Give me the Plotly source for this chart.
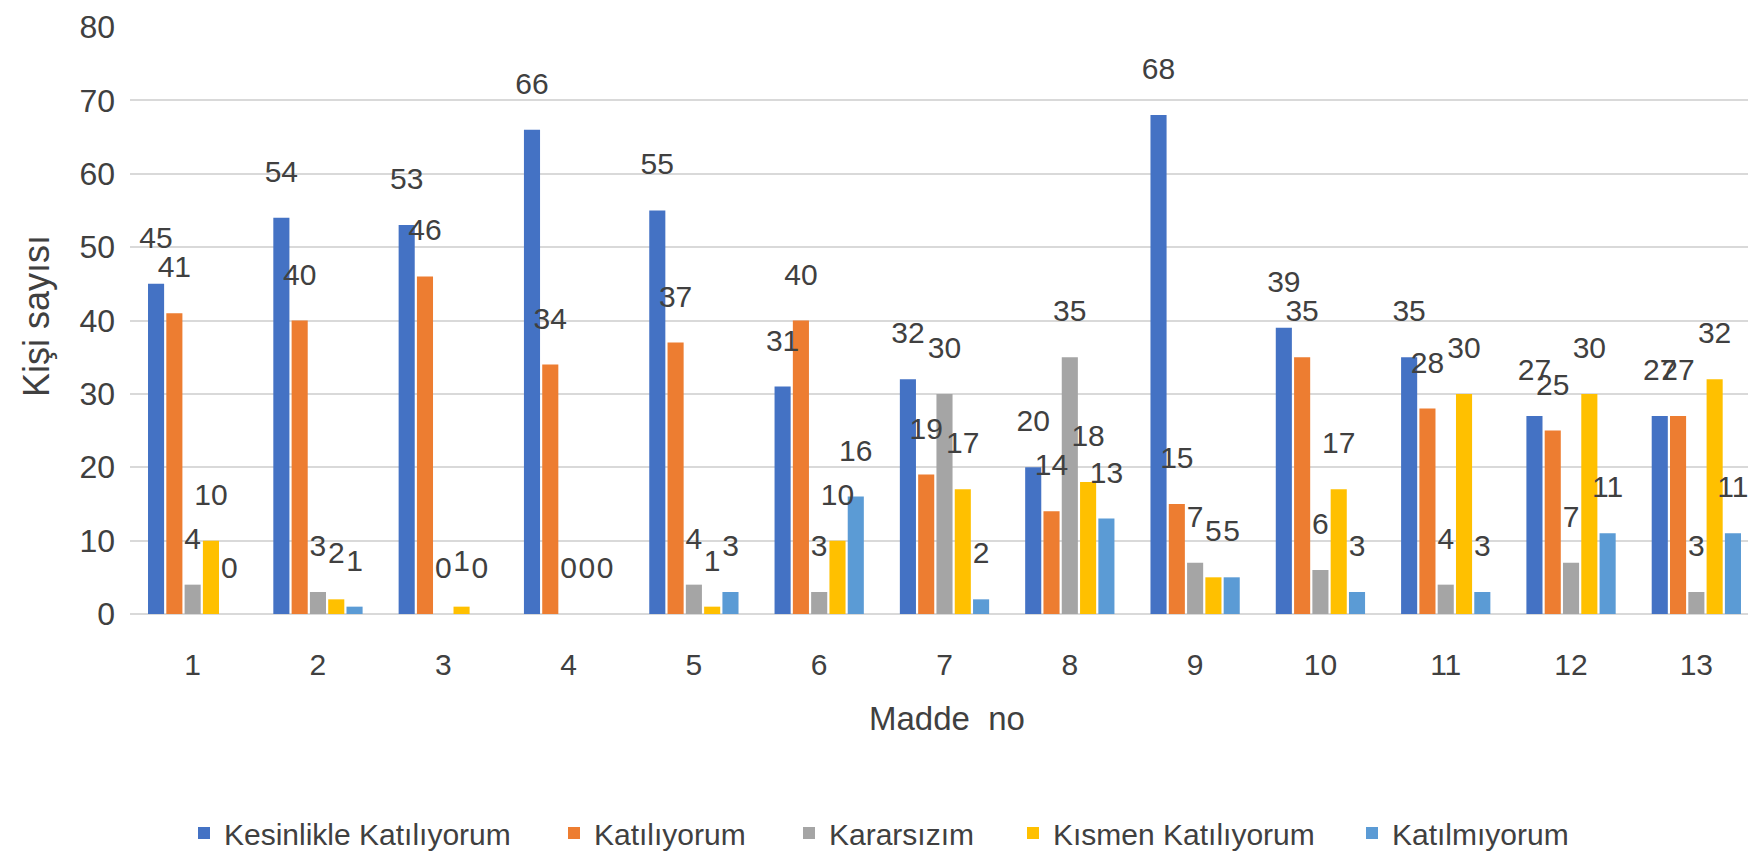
import plotly.graph_objects as go

categories = ["1", "2", "3", "4", "5", "6", "7", "8", "9", "10", "11", "12", "13"]
series_names = ["Kesinlikle Katılıyorum", "Katılıyorum", "Kararsızım", "Kısmen Katılıyorum", "Katılmıyorum"]
kesinlikle = [45, 54, 53, 66, 55, 31, 32, 20, 68, 39, 35, 27, 27]
katiliyorum = [41, 40, 46, 34, 37, 40, 19, 14, 15, 35, 28, 25, 27]
kararsizim = [4, 3, 0, 0, 4, 3, 30, 35, 7, 6, 4, 7, 3]
kismen = [10, 2, 1, 0, 1, 10, 17, 18, 5, 17, 30, 30, 32]
katilmiyorum = [0, 1, 0, 0, 3, 16, 2, 13, 5, 3, 3, 11, 11]
colors = ["#4472C4", "#ED7D31", "#A5A5A5", "#FFC000", "#5B9BD5"]

FONT = "Liberation Sans, Arial"
TXT = "#404040"

W, H = 1756, 854
L, R, T, B = 122, 5, 19, 248
PW = W - L - R
PH = H - T - B

legend_px = [176, 546, 781, 1005, 1344]
legend_names = ["legend", "legend2", "legend3", "legend4", "legend5"]

fig = go.Figure()
all_vals = [kesinlikle, katiliyorum, kararsizim, kismen, katilmiyorum]
for i, (name, vals, col) in enumerate(zip(series_names, all_vals, colors)):
    fig.add_trace(go.Bar(
        x=categories, y=vals, name=name, marker_color=col,
        marker_line_width=0, offsetgroup=str(i),
        legend=legend_names[i],
    ))
for i, vals in enumerate(all_vals):
    fig.add_trace(go.Scatter(
        x=categories, y=vals, mode="markers+text", offsetgroup=str(i),
        marker=dict(size=44, opacity=0), text=[str(v) for v in vals],
        textposition="top center", textfont=dict(family=FONT, size=30, color=TXT),
        showlegend=False, cliponaxis=False, hoverinfo="skip",
    ))

layout_legends = {}
for i, ln in enumerate(legend_names):
    layout_legends[ln] = dict(
        x=(legend_px[i] - L) / PW, xanchor="left",
        y=(H - B - 825) / PH, yanchor="middle",
        orientation="h", bgcolor="rgba(0,0,0,0)",
        font=dict(family=FONT, size=30, color=TXT), itemwidth=30,
    )

fig.update_layout(
    width=W, height=H,
    barmode="group", bargap=0.27, bargroupgap=0.12,
    scattermode="group", scattergap=0.27,
    plot_bgcolor="white", paper_bgcolor="white",
    margin=dict(l=L, r=R, t=T, b=B, autoexpand=False),
    font=dict(family=FONT, size=28, color=TXT),
    showlegend=True,
    xaxis=dict(type="category", showgrid=False, showline=False, zeroline=False,
               ticks="", ticklabelstandoff=30, automargin=False,
               tickfont=dict(family=FONT, size=30, color=TXT)),
    yaxis=dict(range=[0, 80], dtick=10, showgrid=True, gridcolor="#D9D9D9", gridwidth=2,
               zeroline=True, zerolinecolor="#D9D9D9", zerolinewidth=2, showline=False,
               ticks="", ticklabelstandoff=14, automargin=False,
               tickfont=dict(family=FONT, size=32, color=TXT)),
    annotations=[
        dict(text="Madde  no", xref="paper", yref="paper",
             x=(939 - L) / PW, y=(H - B - 710) / PH, xanchor="center", yanchor="middle",
             showarrow=False, font=dict(family=FONT, size=33, color=TXT)),
        dict(text="Kişi sayısı", xref="paper", yref="paper", textangle=-90,
             x=(28 - L) / PW, y=(H - B - 308) / PH, xanchor="center", yanchor="middle",
             showarrow=False, font=dict(family=FONT, size=36, color=TXT)),
    ],
    **layout_legends,
)

fig.write_html("out.html")
